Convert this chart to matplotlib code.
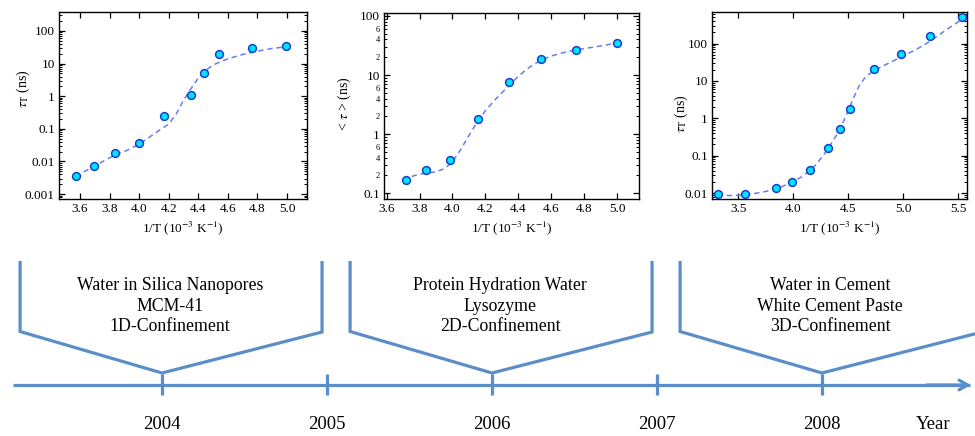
import numpy as np
import matplotlib
matplotlib.use("Agg")
import matplotlib.pyplot as plt
from matplotlib.ticker import LogLocator, FixedLocator, FixedFormatter, NullFormatter, NullLocator

plt.rcParams['font.family'] = ['Liberation Serif', 'DejaVu Serif']
plt.rcParams['mathtext.fontset'] = 'stix'

# ---------------- data ----------------
# Panel 1: water in MCM-41
p1_x = [3.571, 3.693, 3.834, 4.001, 4.165, 4.350, 4.440, 4.540, 4.760, 4.994]
p1_y = [0.0035, 0.0074, 0.018, 0.037, 0.25, 1.07, 5.3, 20, 30, 34]
p1_fit_x = [3.57, 3.65, 3.70, 3.77, 3.84, 3.92, 4.00, 4.08, 4.15, 4.20, 4.25, 4.30, 4.35, 4.40, 4.45, 4.50, 4.55, 4.60, 4.70, 4.80, 4.90, 5.00]
p1_fit_y = [0.0035, 0.0055, 0.0072, 0.011, 0.016, 0.022, 0.034, 0.06, 0.10, 0.14, 0.28, 0.75, 1.7, 3.6, 6.2, 9.0, 11.5, 14, 19, 24, 29, 33]

# Panel 2: protein hydration water
p2_x = [3.715, 3.840, 3.986, 4.158, 4.346, 4.540, 4.752, 5.000]
p2_y = [0.168, 0.25, 0.37, 1.77, 7.7, 19, 27, 35]
p2_fit_x = [3.70, 3.77, 3.84, 3.90, 3.95, 4.00, 4.05, 4.10, 4.15, 4.20, 4.25, 4.30, 4.35, 4.40, 4.45, 4.50, 4.55, 4.60, 4.70, 4.80, 4.90, 5.00]
p2_fit_y = [0.17, 0.20, 0.22, 0.23, 0.26, 0.34, 0.55, 0.95, 1.6, 2.5, 3.6, 5.0, 7.0, 9.5, 12.5, 15.5, 18.5, 21, 25, 28, 31, 35]

# Panel 3: water in cement
p3_x = [3.314, 3.557, 3.838, 3.987, 4.148, 4.318, 4.425, 4.520, 4.733, 4.983, 5.247, 5.533]
p3_y = [0.0092, 0.0094, 0.0134, 0.0193, 0.041, 0.158, 0.51, 1.78, 20.6, 53, 160, 510]
p3_fit_x = [3.31, 3.45, 3.60, 3.75, 3.90, 4.00, 4.10, 4.20, 4.30, 4.40, 4.45, 4.50, 4.55, 4.60, 4.65, 4.70, 4.80, 4.90, 5.00, 5.10, 5.20, 5.30, 5.40, 5.50, 5.58]
p3_fit_y = [0.0088, 0.0085, 0.0092, 0.011, 0.015, 0.02, 0.03, 0.055, 0.13, 0.38, 0.75, 1.6, 3.6, 7.5, 12, 16, 24, 33, 47, 65, 95, 150, 240, 380, 560]

years = [2004, 2005, 2006, 2007, 2008]
bracket_years = [2004, 2006, 2008]
bracket_texts = ["Water in Silica Nanopores\nMCM-41\n1D-Confinement",
                 "Protein Hydration Water\nLysozyme\n2D-Confinement",
                 "Water in Cement\nWhite Cement Paste\n3D-Confinement"]

# ---------------- style ----------------
W, H = 975, 436
fig = plt.figure(figsize=(W / 100, H / 100), dpi=100)

mk_face = '#00e5ff'
mk_edge = '#1a3ccf'
fit_col = '#6a7cf2'
tl_col = '#5b8ec9'
TICK_FS = 9.5

def add_ax(x0, x1, y0, y1):
    return fig.add_axes([x0 / W, 1 - y1 / H, (x1 - x0) / W, (y1 - y0) / H])

def style_ax(ax):
    ax.set_yscale('log')
    ax.tick_params(which='both', direction='in', top=True, right=True, labelsize=TICK_FS, pad=3)
    ax.tick_params(which='major', length=4.5, width=0.9)
    ax.tick_params(which='minor', length=2.5, width=0.7)
    ax.xaxis.set_minor_locator(NullLocator())
    for s in ax.spines.values():
        s.set_linewidth(1.0)

def draw(ax, x, y, fx, fy):
    ax.plot(fx, fy, ls=(0, (3.5, 2.5)), color=fit_col, lw=1.1, zorder=2)
    ax.plot(x, y, 'o', ms=5.6, mfc=mk_face, mec=mk_edge, mew=1.1, zorder=3, clip_on=False)

XLAB = r'1/T (10$^{-3}$ K$^{-1}$)'

# Panel 1
ax1 = add_ax(59, 307, 12, 199)
style_ax(ax1)
draw(ax1, p1_x, p1_y, p1_fit_x, p1_fit_y)
ax1.set_xlim(3.458, 5.135)
ax1.set_ylim(10 ** -3.15, 10 ** 2.58)
ax1.set_xticks([3.6, 3.8, 4.0, 4.2, 4.4, 4.6, 4.8, 5.0])
ax1.set_xticklabels(['3.6', '3.8', '4.0', '4.2', '4.4', '4.6', '4.8', '5.0'])
ax1.set_yticks([0.001, 0.01, 0.1, 1, 10, 100])
ax1.set_yticklabels(['0.001', '0.01', '0.1', '1', '10', '100'])
ax1.yaxis.set_minor_locator(LogLocator(base=10, subs=np.arange(2, 10), numticks=20))
ax1.yaxis.set_minor_formatter(NullFormatter())
ax1.set_ylabel(r'$\tau_{\mathrm{T}}$ (ns)', fontsize=10)
ax1.yaxis.set_label_coords(-0.109, 0.588)
ax1.set_xlabel(XLAB, fontsize=9.5, labelpad=3)

# Panel 2
ax2 = add_ax(384, 639, 13, 199)
style_ax(ax2)
draw(ax2, p2_x, p2_y, p2_fit_x, p2_fit_y)
ax2.set_xlim(3.584, 5.133)
ax2.set_ylim(0.08, 112)
ax2.set_xticks([3.6, 3.8, 4.0, 4.2, 4.4, 4.6, 4.8, 5.0])
ax2.set_xticklabels(['3.6', '3.8', '4.0', '4.2', '4.4', '4.6', '4.8', '5.0'])
ax2.set_yticks([0.1, 1, 10, 100])
ax2.set_yticklabels(['0.1', '1', '10', '100'])
minor_vals = [v * m for v in (0.1, 1, 10) for m in range(2, 10)]
ax2.yaxis.set_minor_locator(FixedLocator(minor_vals))
minor_labels = []
for v in (0.1, 1, 10):
    for m in range(2, 10):
        minor_labels.append(str(m) if m in (2, 4, 6) else '')
ax2.yaxis.set_minor_formatter(FixedFormatter(minor_labels))
ax2.tick_params(axis='y', which='minor', labelsize=6, pad=3)
ax2.set_ylabel(r'< $\tau$ > (ns)', fontsize=10)
ax2.yaxis.set_label_coords(-0.122, 0.51)
ax2.set_xlabel(XLAB, fontsize=9.5, labelpad=3)

# Panel 3
ax3 = add_ax(712, 967, 12, 199)
style_ax(ax3)
draw(ax3, p3_x, p3_y, p3_fit_x, p3_fit_y)
ax3.set_xlim(3.259, 5.582)
ax3.set_ylim(10 ** -2.16, 10 ** 2.845)
ax3.set_xticks([3.5, 4.0, 4.5, 5.0, 5.5])
ax3.set_xticklabels(['3.5', '4.0', '4.5', '5.0', '5.5'])
ax3.set_yticks([0.01, 0.1, 1, 10, 100])
ax3.set_yticklabels(['0.01', '0.1', '1', '10', '100'])
ax3.yaxis.set_minor_locator(LogLocator(base=10, subs=np.arange(2, 10), numticks=20))
ax3.yaxis.set_minor_formatter(NullFormatter())
ax3.set_ylabel(r'$\tau_{\mathrm{T}}$ (ns)', fontsize=10)
ax3.yaxis.set_label_coords(-0.086, 0.455)
ax3.set_xlabel(XLAB, fontsize=9.5, labelpad=3)

# ---------------- timeline ----------------
tl = fig.add_axes([0, 0, 1, 1], zorder=-1)
tl.set_xlim(2004 - 162 / 165, 2004 + 813 / 165)
tl.set_ylim(H, 0)
tl.axis('off')

lw = 2.3
y_axis = 385
x_start = 2004 - 149 / 165
x_end = tl.get_xlim()[1] - 0.01
tl.plot([x_start, x_end - 0.02], [y_axis, y_axis], color=tl_col, lw=lw, solid_capstyle='butt')
tl.annotate('', xy=(x_end, y_axis), xytext=(x_end - 0.3, y_axis),
            arrowprops=dict(arrowstyle='->,head_length=0.6,head_width=0.35', color=tl_col, lw=lw))

for yr in years:
    tl.plot([yr, yr], [374, 395], color=tl_col, lw=lw, solid_capstyle='butt')
    tl.text(yr, 424, str(yr), ha='center', va='center', fontsize=13.5)
tl.text(2004 + 771 / 165, 424, 'Year', ha='center', va='center', fontsize=13.5)

for yr, txt in zip(bracket_years, bracket_texts):
    xs = [yr - 0.86, yr - 0.86, yr, yr + 0.97, yr + 0.97]
    ys = [261, 331.5, 373, 332, 261]
    tl.plot(xs, ys, color=tl_col, lw=lw, solid_joinstyle='miter', solid_capstyle='butt', clip_on=True)
    tl.text(yr + 0.05, 306, txt, ha='center', va='center', fontsize=12.8, linespacing=1.25)

fig.savefig('out.png', dpi=100)
